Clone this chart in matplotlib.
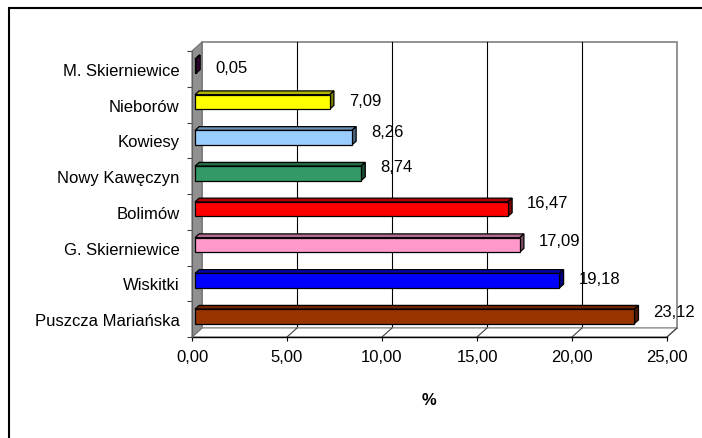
import matplotlib
matplotlib.use('Agg')
import matplotlib.pyplot as plt
from matplotlib.patches import Polygon, Rectangle
import numpy as np

plt.rcParams['font.family'] = ['Liberation Sans', 'DejaVu Sans']

# ---------------- data ----------------
categories = ['M. Skierniewice', 'Nieborów', 'Kowiesy', 'Nowy Kawęczyn',
              'Bolimów', 'G. Skierniewice', 'Wiskitki', 'Puszcza Mariańska']
values = [0.05, 7.09, 8.26, 8.74, 16.47, 17.09, 19.18, 23.12]
value_labels = ['0,05', '7,09', '8,26', '8,74', '16,47', '17,09', '19,18', '23,12']
bar_colors = ['#660066', '#FFFF00', '#99CCFF', '#339966',
              '#FF0000', '#FF99CC', '#0000FF', '#993300']
xticks = [0, 5, 10, 15, 20, 25]
xtick_labels = ['0,00', '5,00', '10,00', '15,00', '20,00', '25,00']
axis_title = '%'

# ---------------- style ----------------
LABEL_NUDGE_PX = [-1.5, 1, 6, 6.5, 7, 4, 2, 5]
FS = 12
W, H, DPI = 702, 439, 100

fig = plt.figure(figsize=(W / DPI, H / DPI), dpi=DPI)
fig.patch.set_facecolor('white')

# outer frame (cropped at right/bottom like reference)
fig.patches.append(Rectangle((8.5 / W, -0.1), 1.2, (H - 8.5) / H + 0.1,
                             transform=fig.transFigure, fill=False,
                             edgecolor='black', linewidth=1.5))

ax = fig.add_axes([192 / W, (H - 338) / H, 475 / W, 286 / H])
n = len(categories)
ax.set_xlim(0, 25)
ax.set_ylim(-0.5, n - 0.5)
for s in ax.spines.values():
    s.set_visible(False)
ax.patch.set_visible(False)

ux = 475 / 25.0          # px per x unit
uy = 286 / n             # px per category
Dx, Dy = 10 / ux, 9 / uy  # chart depth in data units

# back wall
ax.add_patch(Rectangle((Dx, -0.5 + Dy), 25, n, facecolor='white',
                       edgecolor='#808080', linewidth=1.2, clip_on=False, zorder=0))
# back-wall gridlines
for t in xticks[1:-1]:
    ax.plot([t + Dx, t + Dx], [-0.5 + Dy, n - 0.5 + Dy], color='black',
            linewidth=0.8, clip_on=False, zorder=1)
# floor
ax.add_patch(Polygon([(0, -0.5), (Dx, -0.5 + Dy), (25 + Dx, -0.5 + Dy), (25, -0.5)],
                     closed=True, facecolor='white', edgecolor='#a0a0a0',
                     linewidth=1.0, clip_on=False, zorder=1))
for t in xticks[1:]:
    ax.plot([t, t + Dx], [-0.5, -0.5 + Dy], color='#404040', linewidth=0.8,
            clip_on=False, zorder=1.5)
# left wall
ax.add_patch(Polygon([(0, -0.5), (Dx, -0.5 + Dy), (Dx, n - 0.5 + Dy), (0, n - 0.5)],
                     closed=True, facecolor='#909090', edgecolor='#707070',
                     linewidth=0.8, clip_on=False, zorder=2))
# front axis line
ax.plot([0, 25], [-0.5, -0.5], color='black', linewidth=1.0, clip_on=False, zorder=2)
ax.plot([0, 0], [-0.5, n - 0.5], color='#606060', linewidth=0.8, clip_on=False, zorder=2)


def shade(c, f):
    r, g, b = matplotlib.colors.to_rgb(c)
    return (r * f, g * f, b * f)


f0, f1 = 0.3, 0.72
h = 14.5 / uy
ddx, ddy = (f1 - f0) * Dx, (f1 - f0) * Dy
for i, (cat, v, col) in enumerate(zip(categories, values, bar_colors)):
    p = n - 1 - i
    x0 = f0 * Dx
    y0 = p - h / 2 + f0 * Dy
    ax.add_patch(Rectangle((x0, y0), v, h, facecolor=col, edgecolor='black',
                           linewidth=0.9, zorder=5, clip_on=False))
    ax.add_patch(Polygon([(x0, y0 + h), (x0 + v, y0 + h), (x0 + v + ddx, y0 + h + ddy),
                          (x0 + ddx, y0 + h + ddy)], closed=True,
                         facecolor=shade(col, 0.7), edgecolor='black', linewidth=0.9,
                         zorder=4, clip_on=False))
    ax.add_patch(Polygon([(x0 + v, y0), (x0 + v, y0 + h), (x0 + v + ddx, y0 + h + ddy),
                          (x0 + v + ddx, y0 + ddy)], closed=True,
                         facecolor=shade(col, 0.5), edgecolor='black', linewidth=0.9,
                         zorder=4, clip_on=False))
    ax.text(x0 + v + 19 / ux, p + f0 * Dy + LABEL_NUDGE_PX[i] / uy, value_labels[i],
            ha='left', va='center', fontsize=FS, color='black', zorder=6, clip_on=False)

# x axis ticks / labels
ax.set_xticks(xticks)
ax.set_xticklabels(xtick_labels, fontsize=FS)
ax.tick_params(axis='x', direction='out', length=3, width=0.8, pad=6, color='black')
ax.set_xlabel(axis_title, fontsize=FS, fontweight='bold', labelpad=20)

# y axis: labels at centres, tick marks at boundaries
ax.set_yticks(range(n))
ax.set_yticklabels(categories[::-1], fontsize=FS)
ax.tick_params(axis='y', which='major', length=0, pad=9)
ax.set_yticks(np.arange(-0.5, n, 1.0), minor=True)
ax.tick_params(axis='y', which='minor', direction='out', length=3.5, width=0.8,
               color='#404040')

fig.savefig('out.png', dpi=DPI)
